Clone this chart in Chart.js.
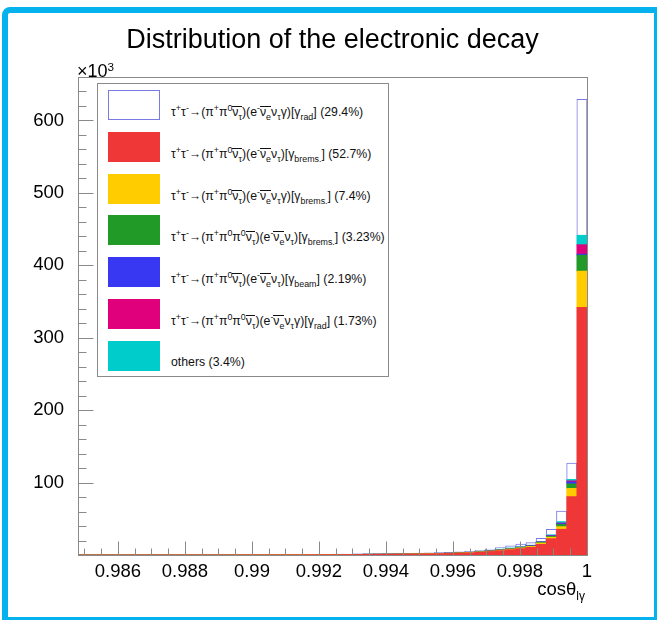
<!DOCTYPE html>
<html>
<head>
<meta charset="utf-8">
<script src="https://cdn.jsdelivr.net/npm/chart.js@4.4.1/dist/chart.umd.min.js"></script>
<style>
html,body{margin:0;padding:0;background:#fff;}
#wrap{position:relative;width:658px;height:624px;overflow:hidden;font-family:"Liberation Sans",Arial,Helvetica,sans-serif;color:#000;}
#c{position:absolute;left:0;top:0;}
#frame{position:absolute;left:2px;top:7px;width:646px;height:604px;border-style:solid;border-color:#06b2ee;border-width:6px 3px 3px 6px;border-top-left-radius:8px;pointer-events:none;}
#title{position:absolute;left:0;width:665px;top:26px;text-align:center;font-size:27px;line-height:1;}
#mult{position:absolute;left:77px;top:62px;font-size:18px;line-height:1;}
#mult sup{font-size:0.65em;vertical-align:0.5em;line-height:0;}
#xtitle{position:absolute;right:73px;top:580px;font-size:18.5px;line-height:1;white-space:nowrap;}
#xtitle sub{font-size:0.65em;vertical-align:-0.45em;line-height:0;}
#legend{position:absolute;left:97px;top:83px;width:292px;height:294px;box-sizing:border-box;border:1px solid #8a8a8a;background:#fff;}
.sw{position:absolute;left:10px;width:52px;height:30px;box-sizing:border-box;}
.lt{position:absolute;left:73px;font-size:12.3px;line-height:1;white-space:nowrap;color:#111;}
.lt sup{font-size:0.72em;vertical-align:0.55em;line-height:0;}
.lt sub{font-size:0.72em;vertical-align:-0.45em;line-height:0;}
.ov{display:inline-block;border-top:1px solid #111;line-height:0.85;}
</style>
</head>
<body>
<div id="wrap">
  <canvas id="c" width="658" height="624"></canvas>
  <div id="title">Distribution of the electronic decay</div>
  <div id="mult">×10<sup>3</sup></div>
  <div id="xtitle">cosθ<sub>lγ</sub></div>
  <div id="legend"></div>
  <div id="frame"></div>
</div>
<script>
// ---- histogram binning (cos(10°) .. 1, 50 bins) ----
const nBins = 50;
const xLow = 0.98481;
const xHigh = 1.0;

// ---- tick labels ----
const xTickValues = [0.986, 0.988, 0.99, 0.992, 0.994, 0.996, 0.998, 1];
const xTickLabels = ["0.986", "0.988", "0.99", "0.992", "0.994", "0.996", "0.998", "1"];
const yTickValues = [100, 200, 300, 400, 500, 600];
const yTickLabels = ["100", "200", "300", "400", "500", "600"];

// ---- series (entries per bin, in units of 10^3) ----
const bremsRed = [0.10,0.10,0.12,0.10,0.13,0.12,0.14,0.15,0.13,0.16,
 0.17,0.18,0.20,0.19,0.22,0.24,0.26,0.28,0.30,0.33,
 0.36,0.40,0.45,0.50,0.55,0.62,0.70,0.80,0.90,1.00,
 1.10,1.20,1.35,1.50,1.70,1.95,2.20,2.60,3.10,3.90,
 4.90,6.10,7.40,8.90,10.6,14.8,22.6,35.6,80.7,342];
const bremsGammaYellow = [0.01,0.02,0.01,0.02,0.02,0.01,0.02,0.02,0.02,0.02,
 0.02,0.03,0.02,0.03,0.03,0.03,0.04,0.04,0.04,0.05,
 0.05,0.05,0.06,0.06,0.07,0.08,0.09,0.10,0.11,0.12,
 0.13,0.15,0.16,0.18,0.20,0.23,0.26,0.30,0.36,0.44,
 0.55,0.70,0.85,1.00,1.20,1.80,2.00,3.60,11.3,50];
const brems2pi0Green = [0.01,0.01,0.01,0.01,0.01,0.01,0.01,0.01,0.01,0.01,
 0.01,0.01,0.01,0.01,0.02,0.02,0.02,0.02,0.02,0.02,
 0.03,0.03,0.03,0.03,0.04,0.04,0.04,0.05,0.05,0.06,
 0.06,0.07,0.08,0.09,0.10,0.11,0.13,0.15,0.18,0.22,
 0.27,0.33,0.40,0.50,0.60,0.80,1.20,3.00,6.20,22];
const beamBlue = [0.02,0.01,0.02,0.01,0.02,0.02,0.01,0.02,0.02,0.02,
 0.02,0.02,0.02,0.02,0.02,0.03,0.03,0.03,0.03,0.03,
 0.03,0.04,0.04,0.04,0.04,0.05,0.05,0.05,0.06,0.06,
 0.07,0.07,0.08,0.09,0.10,0.11,0.12,0.14,0.16,0.19,
 0.22,0.26,0.30,0.35,0.40,0.40,0.60,1.20,2.80,1.5];
const rad2pi0Magenta = [0.01,0.01,0.01,0.01,0.01,0.01,0.01,0.01,0.01,0.01,
 0.01,0.01,0.01,0.01,0.01,0.01,0.01,0.01,0.02,0.02,
 0.02,0.02,0.02,0.02,0.02,0.02,0.02,0.02,0.03,0.03,
 0.03,0.03,0.04,0.04,0.05,0.05,0.06,0.07,0.08,0.10,
 0.12,0.15,0.18,0.20,0.20,0.30,0.40,0.80,1.40,13];
const othersCyan = [0.02,0.02,0.03,0.02,0.02,0.03,0.02,0.03,0.03,0.03,
 0.03,0.03,0.03,0.04,0.03,0.04,0.04,0.04,0.04,0.05,
 0.05,0.05,0.05,0.05,0.06,0.06,0.06,0.07,0.07,0.08,
 0.08,0.09,0.10,0.11,0.12,0.14,0.16,0.19,0.23,0.30,
 0.40,0.50,0.60,0.70,0.60,0.80,1.20,2.00,2.10,13];
const radWhite = [0.05,0.06,0.05,0.06,0.07,0.06,0.07,0.08,0.07,0.08,
 0.09,0.09,0.10,0.10,0.11,0.12,0.13,0.14,0.15,0.16,
 0.17,0.18,0.20,0.21,0.23,0.25,0.27,0.29,0.31,0.33,
 0.35,0.40,0.45,0.50,0.58,0.66,0.75,0.90,1.10,1.40,
 1.80,2.10,2.80,3.30,3.40,4.10,7.60,14.3,22.5,187.5];

// ---- legend labels (legend order) ----
const legendKeys = ["radWhite","bremsRed","bremsGammaYellow","brems2pi0Green","beamBlue","rad2pi0Magenta","othersCyan"];
const legendLabels = [
 'τ<sup>+</sup>τ<sup>-</sup>→(π<sup>+</sup>π<sup>0</sup><span class="ov">ν<sub>τ</sub></span>)(e<sup>-</sup><span class="ov">ν<sub>e</sub></span>ν<sub>τ</sub>γ)[γ<sub>rad</sub>] (29.4%)',
 'τ<sup>+</sup>τ<sup>-</sup>→(π<sup>+</sup>π<sup>0</sup><span class="ov">ν<sub>τ</sub></span>)(e<sup>-</sup><span class="ov">ν<sub>e</sub></span>ν<sub>τ</sub>)[γ<sub>brems.</sub>] (52.7%)',
 'τ<sup>+</sup>τ<sup>-</sup>→(π<sup>+</sup>π<sup>0</sup><span class="ov">ν<sub>τ</sub></span>)(e<sup>-</sup><span class="ov">ν<sub>e</sub></span>ν<sub>τ</sub>γ)[γ<sub>brems.</sub>] (7.4%)',
 'τ<sup>+</sup>τ<sup>-</sup>→(π<sup>+</sup>π<sup>0</sup>π<sup>0</sup><span class="ov">ν<sub>τ</sub></span>)(e<sup>-</sup><span class="ov">ν<sub>e</sub></span>ν<sub>τ</sub>)[γ<sub>brems.</sub>] (3.23%)',
 'τ<sup>+</sup>τ<sup>-</sup>→(π<sup>+</sup>π<sup>0</sup><span class="ov">ν<sub>τ</sub></span>)(e<sup>-</sup><span class="ov">ν<sub>e</sub></span>ν<sub>τ</sub>)[γ<sub>beam</sub>] (2.19%)',
 'τ<sup>+</sup>τ<sup>-</sup>→(π<sup>+</sup>π<sup>0</sup>π<sup>0</sup><span class="ov">ν<sub>τ</sub></span>)(e<sup>-</sup><span class="ov">ν<sub>e</sub></span>ν<sub>τ</sub>γ)[γ<sub>rad</sub>] (1.73%)',
 'others (3.4%)'
];
const plainLabels = [
 "τ+τ-→(π+π0 anti-ντ)(e- anti-νe ντ γ)[γrad] (29.4%)",
 "τ+τ-→(π+π0 anti-ντ)(e- anti-νe ντ)[γbrems.] (52.7%)",
 "τ+τ-→(π+π0 anti-ντ)(e- anti-νe ντ γ)[γbrems.] (7.4%)",
 "τ+τ-→(π+π0π0 anti-ντ)(e- anti-νe ντ)[γbrems.] (3.23%)",
 "τ+τ-→(π+π0 anti-ντ)(e- anti-νe ντ)[γbeam] (2.19%)",
 "τ+τ-→(π+π0π0 anti-ντ)(e- anti-νe ντ γ)[γrad] (1.73%)",
 "others (3.4%)"
];

// ---- styles ----
const styles = {
  radWhite:        {bg:'#ffffff', border:'#7a7ae4', bw:1},
  bremsRed:        {bg:'#f03737', border:'#f03737', bw:0},
  bremsGammaYellow:{bg:'#ffcc00', border:'#ffcc00', bw:0},
  brems2pi0Green:  {bg:'#229a28', border:'#229a28', bw:0},
  beamBlue:        {bg:'#3838f2', border:'#3838f2', bw:0},
  rad2pi0Magenta:  {bg:'#e0007b', border:'#e0007b', bw:0},
  othersCyan:      {bg:'#00cccc', border:'#00cccc', bw:0}
};
const seriesData = {radWhite, bremsRed, bremsGammaYellow, brems2pi0Green, beamBlue, rad2pi0Magenta, othersCyan};
// stacking order bottom -> top
const stackOrder = ["bremsRed","bremsGammaYellow","brems2pi0Green","beamBlue","rad2pi0Magenta","othersCyan","radWhite"];

const binWidth = (xHigh - xLow) / nBins;
const binCenters = Array.from({length:nBins}, (_, i) => xLow + (i + 0.5) * binWidth);

const datasets = stackOrder.map(key => {
  const li = legendKeys.indexOf(key);
  return {
    label: plainLabels[li],
    data: seriesData[key].map((v, i) => ({x: binCenters[i], y: v})),
    backgroundColor: styles[key].bg,
    borderColor: styles[key].border,
    borderWidth: styles[key].bw,
    barPercentage: 1.0,
    categoryPercentage: 1.0
  };
});

// ---- legend (HTML) ----
const legendEl = document.getElementById('legend');
legendKeys.forEach((key, i) => {
  const top = 6 + 41.8 * i;
  const sw = document.createElement('div');
  sw.className = 'sw';
  sw.style.top = top + 'px';
  sw.style.background = styles[key].bg;
  if (key === 'radWhite') sw.style.border = '1px solid ' + styles[key].border;
  legendEl.appendChild(sw);
  const t = document.createElement('div');
  t.className = 'lt';
  t.style.top = (top + (key === 'othersCyan' ? 15 : 16)) + 'px';
  t.innerHTML = legendLabels[i];
  legendEl.appendChild(t);
});

// ---- ROOT-like frame and inward ticks ----
const rootFrame = {
  id: 'rootFrame',
  afterDatasetsDraw(chart) {
    const {ctx, chartArea: a, scales: {x, y}} = chart;
    ctx.save();
    ctx.strokeStyle = '#8a8a8a';
    ctx.lineWidth = 1;
    const L = Math.round(a.left) + 0.5, R = Math.round(a.right) + 0.5;
    const T = Math.round(a.top) + 0.5, B = Math.round(a.bottom) + 0.5;
    ctx.strokeRect(L, T, R - L, B - T);
    ctx.beginPath();
    // x ticks
    for (let k = 0; k <= 30; k++) {
      const v = 0.985 + k * 0.0005;
      if (v > xHigh + 1e-9) break;
      const isMajor = xTickValues.some(m => Math.abs(m - v) < 1e-7);
      const px = Math.round(x.getPixelForValue(v)) + 0.5;
      ctx.moveTo(px, B);
      ctx.lineTo(px, B - (isMajor ? 14 : 7));
    }
    // y ticks
    for (let v = 20; v <= 660; v += 20) {
      const isMajor = yTickValues.includes(v);
      const py = Math.round(y.getPixelForValue(v)) + 0.5;
      if (py < a.top) break;
      ctx.moveTo(L, py);
      ctx.lineTo(L + (isMajor ? 15 : 8), py);
    }
    ctx.stroke();
    ctx.restore();
  }
};

new Chart(document.getElementById('c'), {
  type: 'bar',
  data: {datasets},
  options: {
    responsive: false,
    animation: false,
    devicePixelRatio: 1,
    events: [],
    layout: {padding: {left: 0, right: 71, top: 77, bottom: 29}},
    plugins: {legend: {display: false}, title: {display: false}, tooltip: {enabled: false}},
    scales: {
      x: {
        type: 'linear', min: xLow, max: xHigh, stacked: true, offset: false,
        grid: {display: false}, border: {display: false},
        afterBuildTicks: s => { s.ticks = xTickValues.map(v => ({value: v})); },
        afterFit: s => { s.height = 40; },
        ticks: {
          autoSkip: false, maxRotation: 0, padding: -2, color: '#000',
          font: {family: '"Liberation Sans", Arial, sans-serif', size: 18.5},
          callback: (v, i) => xTickLabels[i]
        }
      },
      y: {
        type: 'linear', min: 0, max: 660, stacked: true,
        grid: {display: false}, border: {display: false},
        afterBuildTicks: s => { s.ticks = yTickValues.map(v => ({value: v})); },
        afterFit: s => { s.width = 78; },
        ticks: {
          autoSkip: false, padding: 6, color: '#000',
          font: {family: '"Liberation Sans", Arial, sans-serif', size: 18.5},
          callback: (v, i) => yTickLabels[i]
        }
      }
    }
  },
  plugins: [rootFrame]
});
</script>
</body>
</html>
